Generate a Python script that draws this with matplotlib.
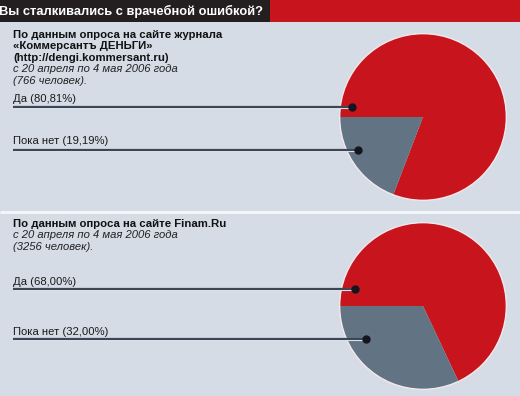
import numpy as np
import matplotlib
matplotlib.use("Agg")
import matplotlib.pyplot as plt
from matplotlib.patches import Rectangle, Circle

# ---- data ----
title = "Вы сталкивались с врачебной ошибкой?"
categories = ["Да", "Пока нет"]
survey1_values = [80.81, 19.19]
survey2_values = [68.00, 32.00]
survey1_head = ["По данным опроса на сайте журнала",
                "«Коммерсантъ ДЕНЬГИ»",
                "(http://dengi.kommersant.ru)"]
survey1_note = ["с 20 апреля по 4 мая 2006 года", "(766 человек)."]
survey2_head = ["По данным опроса на сайте Finam.Ru"]
survey2_note = ["с 20 апреля по 4 мая 2006 года", "(3256 человек)."]

# ---- style ----
W, H, DPI = 520, 396, 100
BG = "#d5dce6"
RED = "#c8141c"
GREY = "#627483"
DARK = "#231f20"
LINE = "#3b4757"
FONT = "Liberation Sans"

fig = plt.figure(figsize=(W / DPI, H / DPI), dpi=DPI)
fig.patch.set_facecolor(BG)

# background overlay in pixel coords
bg = fig.add_axes([0, 0, 1, 1], zorder=0)
bg.set_xlim(0, W)
bg.set_ylim(H, 0)
bg.axis("off")
bg.add_patch(Rectangle((0, 0), 270, 22, color=DARK, lw=0))
bg.add_patch(Rectangle((270, 0), W - 270, 22, color=RED, lw=0))
bg.plot([0, W], [212, 212], color="#f3f6f9", lw=2.2, solid_capstyle="butt")
bg.text(-1, 11.5, title, color="white", fontsize=9.3, fontweight="bold",
        family=FONT, va="center", ha="left")

# top overlay for leader lines / labels
top = fig.add_axes([0, 0, 1, 1], zorder=5)
top.set_xlim(0, W)
top.set_ylim(H, 0)
top.axis("off")
top.patch.set_alpha(0)


def fmt(v):
    return f"{v:.2f}".replace(".", ",") + "%"


def add_block(values, head, note, y0, pie_cy, dot_specs, label_dy):
    # text block
    y = y0
    for line in head:
        bg.text(13, y, line, fontsize=8.2, fontweight="bold", family=FONT,
                color="#111111", va="center", ha="left")
        y += 11.4
    for line in note:
        bg.text(13, y, line, fontsize=8.1, style="italic", family=FONT,
                color="#222222", va="center", ha="left")
        y += 11.4
    # pie
    r_px = 85
    cx = 423
    ax = fig.add_axes([(cx - r_px) / W, (H - pie_cy - r_px) / H,
                       2 * r_px / W, 2 * r_px / H], zorder=2)
    ax.pie(values, colors=[RED, GREY], startangle=180, counterclock=False,
           radius=1, wedgeprops=dict(lw=0))
    ax.add_patch(Circle((0, 0), 1.0, fill=False, ec="#f4e9ec", lw=1.0))
    ax.set_xlim(-1.02, 1.02)
    ax.set_ylim(-1.02, 1.02)
    ax.set_aspect("equal")
    ax.axis("off")
    # leader lines with dots
    to_px = ax.transData + top.transData.inverted()
    for (ang, rr), cat, val in zip(dot_specs, categories, values):
        a = np.deg2rad(ang)
        px, py = to_px.transform((rr * np.cos(a), rr * np.sin(a)))
        top.plot([13, px], [py + 1.2, py + 1.2], color="#eef2f6", lw=0.8,
                 solid_capstyle="butt")
        top.plot([13, px], [py, py], color=LINE, lw=1.6, solid_capstyle="butt")
        top.plot([px], [py], "o", color="#15151f", ms=5)
        top.text(13, py - label_dy, f"{cat} ({fmt(val)})", fontsize=8.1,
                 family=FONT, color="#1a1a1a", va="center", ha="left")


add_block(survey1_values, survey1_head, survey1_note, 35, 117,
          [(172, 0.86), (207, 0.87)], 8.5)
add_block(survey2_values, survey2_head, survey2_note, 224, 306,
          [(166, 0.84), (210, 0.79)], 7.0)

fig.savefig("out.png", dpi=DPI, facecolor=BG)
